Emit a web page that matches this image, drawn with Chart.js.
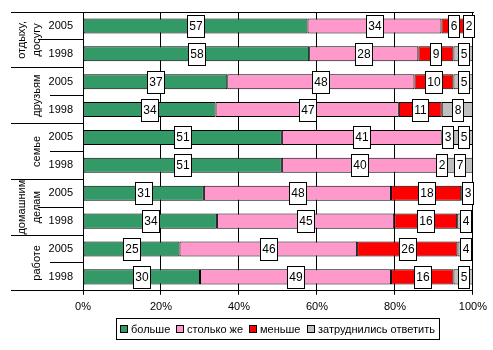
<!DOCTYPE html>
<html>
<head>
<meta charset="utf-8">
<script src="https://cdn.jsdelivr.net/npm/chart.js@4"></script>
<style>
  html, body { margin: 0; padding: 0; background: #fff; }
  #wrap { width: 493px; height: 350px; }
</style>
</head>
<body>
<div id="wrap"><canvas id="chart" width="493" height="350"></canvas></div>
<script>
// группы (по две строки: 2005 и 1998)
const groupNames = [['отдыху,', 'досугу'], ['друзьям'], ['семье'], ['домашним', 'делам'], ['работе']];
const years = ['2005', '1998', '2005', '1998', '2005', '1998', '2005', '1998', '2005', '1998'];

// значения (в процентах, как на подписях)
const bolshe = [57, 58, 37, 34, 51, 51, 31, 34, 25, 30];
const stolkoZhe = [34, 28, 48, 47, 41, 40, 48, 45, 46, 49];
const menshe = [6, 9, 10, 11, 3, 2, 18, 16, 26, 16];
const zatrudn = [2, 5, 5, 8, 5, 7, 3, 4, 4, 5];

const seriesNames = ['больше', 'столько же', 'меньше', 'затруднились ответить'];
const seriesColors = ['#339966', '#FF99CC', '#FF0000', '#C0C0C0'];
const xTicks = [0, 20, 40, 60, 80, 100];

const FONT = '"Liberation Sans", Arial, sans-serif';
const raw = [bolshe, stolkoZhe, menshe, zatrudn];

// 100% нормирование по строке, как в Excel
const totals = years.map((_, i) => raw.reduce((s, arr) => s + arr[i], 0));
const datasets = raw.map((arr, k) => ({
    label: seriesNames[k],
    data: arr.map((v, i) => v / totals[i] * 100),
    rawValues: arr,
    backgroundColor: seriesColors[k],
    borderColor: '#000',
    borderWidth: 1,
    borderSkipped: false,
    categoryPercentage: 1,
    barPercentage: 0.54
}));

function crisp(v) { return Math.round(v) + 0.5; }

// подписи значений в белых рамках
const labelPlugin = {
    id: 'valueBoxes',
    afterDatasetsDraw(chart) {
        const ctx = chart.ctx;
        ctx.save();
        ctx.font = '12px ' + FONT;
        ctx.textAlign = 'center';
        ctx.textBaseline = 'middle';
        chart.data.datasets.forEach((ds, k) => {
            const meta = chart.getDatasetMeta(k);
            meta.data.forEach((bar, i) => {
                const txt = String(ds.rawValues[i]);
                const cx = (bar.x + bar.base) / 2;
                const cy = bar.y;
                const tw = ctx.measureText(txt).width;
                const w = Math.round(tw + 4);
                const h = 22;
                const x0 = Math.round(cx - w / 2);
                const y0 = Math.round(cy - h / 2);
                ctx.fillStyle = '#fff';
                ctx.fillRect(x0, y0, w, h);
                ctx.strokeStyle = '#000';
                ctx.lineWidth = 1;
                ctx.strokeRect(x0 + 0.5, y0 + 0.5, w, h);
                ctx.fillStyle = '#000';
                ctx.fillText(txt, x0 + w / 2 + 0.5, y0 + h / 2 + 1);
            });
        });
        ctx.restore();
    }
};

// двухуровневые подписи оси, разделители и легенда
const framePlugin = {
    id: 'frame',
    afterDraw(chart) {
        const ctx = chart.ctx;
        const area = chart.chartArea;
        const y = chart.scales.y;
        const left = area.left;
        const n = years.length;
        const bound = i => {
            if (i === 0) return area.top;
            if (i === n) return area.bottom;
            return (y.getPixelForValue(i - 1) + y.getPixelForValue(i)) / 2;
        };
        ctx.save();
        ctx.strokeStyle = '#000';
        ctx.lineWidth = 1;
        ctx.beginPath();
        // верхняя рамка
        ctx.moveTo(left - 72, crisp(area.top - 0.5));
        ctx.lineTo(area.right + 1, crisp(area.top - 0.5));
        groupNames.forEach((g, gi) => {
            const yb = crisp(bound(gi * 2 + 2) - 0.5);
            ctx.moveTo(left - 72, yb);
            ctx.lineTo(left, yb);
            const ym = crisp(bound(gi * 2 + 1) - 0.5);
            ctx.moveTo(left - (g.length > 1 ? 45 : 33), ym);
            ctx.lineTo(left, ym);
        });
        ctx.stroke();

        ctx.fillStyle = '#000';
        ctx.font = '11px ' + FONT;
        ctx.textAlign = 'center';
        ctx.textBaseline = 'middle';
        groupNames.forEach((g, gi) => {
            const cy = (bound(gi * 2) + bound(gi * 2 + 2)) / 2;
            g.forEach((line, li) => {
                const cx = left - 46 - (g.length - 1 - li) * 15;
                ctx.save();
                ctx.translate(cx, cy);
                ctx.rotate(-Math.PI / 2);
                ctx.fillText(line, 0, 0);
                ctx.restore();
            });
        });

        // легенда
        ctx.font = '11px ' + FONT;
        ctx.textAlign = 'left';
        const box = 8, gapBox = 3, gapItem = 6;
        const widths = seriesNames.map(s => box + gapBox + ctx.measureText(s).width);
        const total = widths.reduce((a, b) => a + b, 0) + gapItem * (widths.length - 1);
        const lw = Math.round(total + 8);
        const lh = 21;
        const lx = Math.round((area.left + area.right) / 2 - lw / 2);
        const ly = Math.round(area.bottom + 27);
        ctx.fillStyle = '#fff';
        ctx.fillRect(lx, ly, lw, lh);
        ctx.strokeRect(lx + 0.5, ly + 0.5, lw, lh);
        let x = lx + 4;
        const my = ly + lh / 2 + 0.5;
        seriesNames.forEach((s, k) => {
            const bx = Math.round(x), by = Math.round(my - box / 2);
            ctx.fillStyle = seriesColors[k];
            ctx.fillRect(bx, by, box, box);
            ctx.strokeStyle = '#000';
            ctx.strokeRect(bx + 0.5, by + 0.5, box - 1, box - 1);
            ctx.fillStyle = '#000';
            ctx.fillText(s, bx + box + gapBox, my + 1);
            x += widths[k] + gapItem;
        });
        ctx.restore();
    }
};

new Chart(document.getElementById('chart'), {
    type: 'bar',
    data: { labels: years, datasets: datasets },
    options: {
        indexAxis: 'y',
        responsive: false,
        animation: false,
        layout: { padding: { left: 0, right: 19, top: 12, bottom: 30 } },
        plugins: { legend: { display: false }, tooltip: { enabled: false } },
        scales: {
            x: {
                stacked: true,
                min: 0,
                max: 100,
                afterBuildTicks: s => { s.ticks = xTicks.map(v => ({ value: v })); },
                ticks: {
                    callback: v => v + '%',
                    color: '#000',
                    font: { family: FONT, size: 11 },
                    padding: 6,
                    maxRotation: 0
                },
                grid: { color: '#000', lineWidth: 1, tickLength: 4 },
                border: { color: '#000', width: 1 }
            },
            y: {
                stacked: true,
                afterFit: s => { s.width = 83; },
                ticks: {
                    color: '#000',
                    font: { family: FONT, size: 11 },
                    padding: 2
                },
                grid: { display: false },
                border: { color: '#000', width: 1 }
            }
        }
    },
    plugins: [labelPlugin, framePlugin]
});
</script>
</body>
</html>
